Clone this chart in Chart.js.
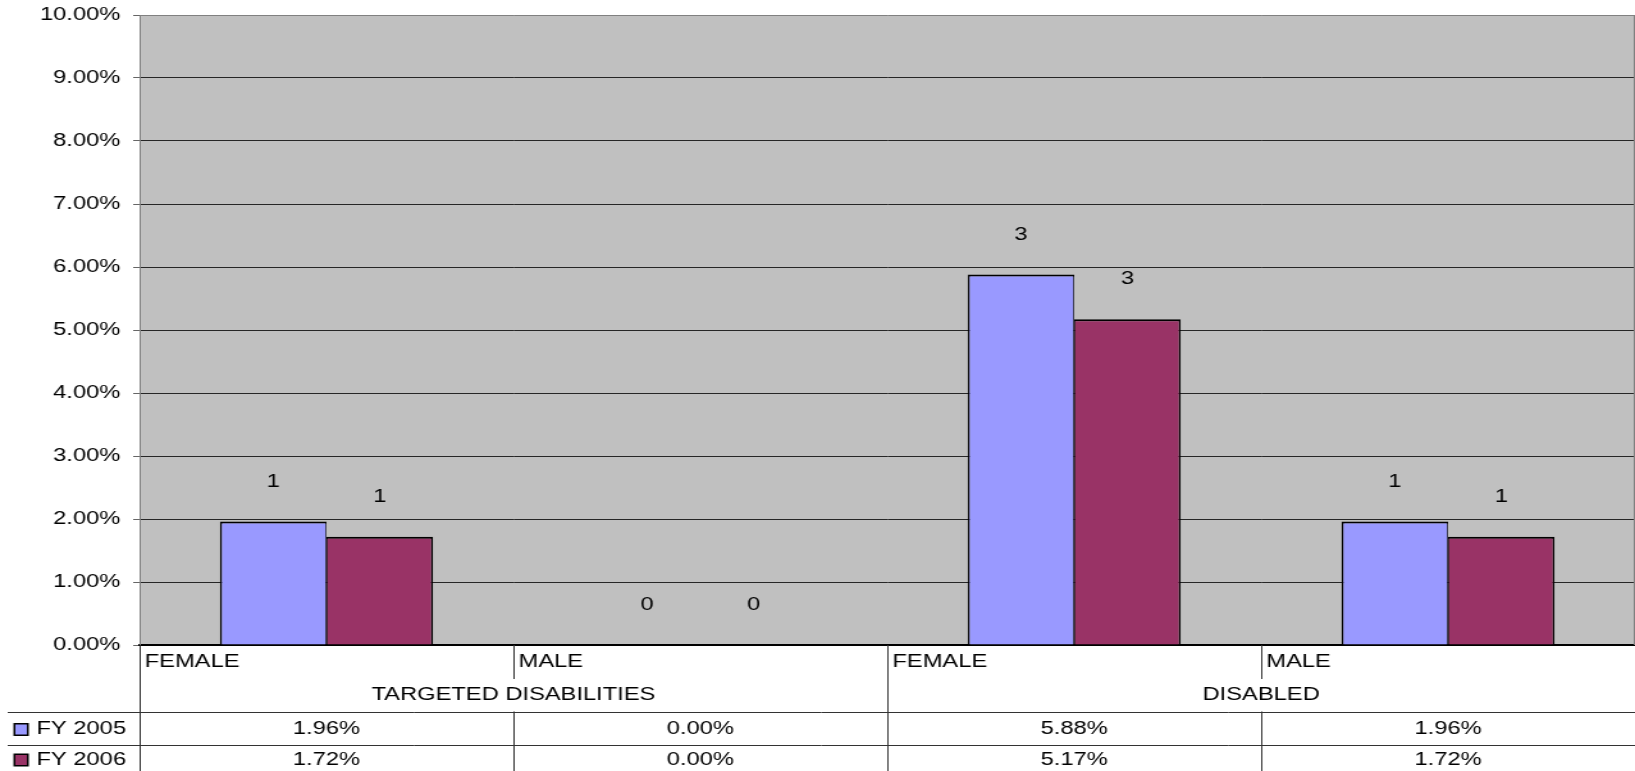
<!DOCTYPE html>
<html>
<head>
<meta charset="utf-8">
<script src="https://cdn.jsdelivr.net/npm/chart.js@4.4.1/dist/chart.umd.min.js"></script>
<style>
  html, body { margin: 0; padding: 0; background: #fff; overflow: hidden; }
  /* the drawing surface is laid out narrower and widened to the page */
  #chart { display: block; width: 1635px !important; height: 771px !important; }
</style>
</head>
<body>
<canvas id="chart" width="1277" height="771" style="width:1635px;height:771px"></canvas>
<script>
// ---- data ----
const categories = ['FEMALE', 'MALE', 'FEMALE', 'MALE'];
const groupLabels = ['TARGETED DISABILITIES', 'DISABLED'];
const groupSpans = [2, 2];
const seriesNames = ['FY 2005', 'FY 2006'];
const fy2005 = [1.96, 0.00, 5.88, 1.96];
const fy2006 = [1.72, 0.00, 5.17, 1.72];
const headcount2005 = [1, 0, 3, 1];
const headcount2006 = [1, 0, 3, 1];
const seriesColors = ['#9999FF', '#993366'];

// ---- styling ----
const FONT_FAMILY = '"Liberation Sans", Arial, sans-serif';
const FONT_SIZE = 18.5;
const FONT = FONT_SIZE + 'px ' + FONT_FAMILY;
const TABLE_HEIGHT = 126;
const ROW = { catBottom: 34, groupBottom: 66.5, row1Bottom: 99.5,
              catText: 17, groupText: 50, row1Text: 84, row2Text: 114.5 };
const fmtPct = v => v.toFixed(2) + '%';

Chart.defaults.font.family = FONT_FAMILY;
Chart.defaults.font.size = FONT_SIZE;
Chart.defaults.color = '#000';

// grey plot background and white page
const plotBackground = {
  id: 'plotBackground',
  beforeDraw(chart) {
    const { ctx, chartArea: a } = chart;
    ctx.save();
    ctx.fillStyle = '#fff';
    ctx.fillRect(0, 0, chart.width, chart.height);
    ctx.fillStyle = '#C0C0C0';
    ctx.fillRect(a.left, a.top, a.right - a.left, a.bottom - a.top);
    ctx.restore();
  }
};

// head-count labels above each bar
const countLabels = {
  id: 'countLabels',
  afterDatasetsDraw(chart) {
    const { ctx } = chart;
    ctx.save();
    ctx.font = FONT;
    ctx.fillStyle = '#000';
    ctx.textAlign = 'center';
    ctx.textBaseline = 'middle';
    chart.data.datasets.forEach((ds, di) => {
      const meta = chart.getDatasetMeta(di);
      meta.data.forEach((bar, i) => {
        ctx.fillText(String(ds.counts[i]), bar.x, bar.y - 40);
      });
    });
    ctx.restore();
  }
};

// data table under the plot: category row, group row, one row per series
const dataTable = {
  id: 'dataTable',
  afterDraw(chart) {
    const { ctx, chartArea: a, scales: { x } } = chart;
    const n = categories.length;
    const step = x.getPixelForValue(1) - x.getPixelForValue(0);
    const edges = [];
    for (let i = 0; i < n; i++) edges.push(x.getPixelForValue(i) - step / 2);
    edges.push(x.getPixelForValue(n - 1) + step / 2);
    const top = a.bottom;
    const bottom = chart.height;

    ctx.save();
    // right border of the plot
    ctx.strokeStyle = '#808080';
    ctx.lineWidth = 1;
    ctx.beginPath();
    ctx.moveTo(a.right - 0.5, a.top);
    ctx.lineTo(a.right - 0.5, a.bottom);
    ctx.stroke();

    ctx.strokeStyle = '#333';
    ctx.lineWidth = 1;
    ctx.beginPath();
    // horizontal rules between series rows
    [ROW.groupBottom, ROW.row1Bottom].forEach(r => {
      const y = Math.round(top + r) + 0.5;
      ctx.moveTo(6, y);
      ctx.lineTo(a.right, y);
    });
    // vertical rules
    let groupStart = 0;
    const groupEdges = new Set([0]);
    groupSpans.forEach(s => { groupStart += s; groupEdges.add(groupStart); });
    for (let i = 0; i < n; i++) {
      const xx = Math.round(edges[i]) + 0.5;
      if (groupEdges.has(i)) {
        ctx.moveTo(xx, top);
        ctx.lineTo(xx, bottom);
      } else {
        ctx.moveTo(xx, top);
        ctx.lineTo(xx, top + ROW.catBottom);
        ctx.moveTo(xx, top + ROW.groupBottom);
        ctx.lineTo(xx, bottom);
      }
    }
    ctx.stroke();

    ctx.font = FONT;
    ctx.fillStyle = '#000';
    ctx.textBaseline = 'middle';
    // category names, left aligned in their cells
    ctx.textAlign = 'left';
    categories.forEach((c, i) => ctx.fillText(c, edges[i] + 4, top + ROW.catText));
    // group names, centred over their categories
    ctx.textAlign = 'center';
    let start = 0;
    groupLabels.forEach((g, gi) => {
      const l = edges[start], r = edges[start + groupSpans[gi]];
      ctx.fillText(g, (l + r) / 2, top + ROW.groupText);
      start += groupSpans[gi];
    });
    // series values
    const rowY = [ROW.row1Text, ROW.row2Text];
    chart.data.datasets.forEach((ds, di) => {
      ds.data.forEach((v, i) => {
        ctx.fillText(fmtPct(v), (edges[i] + edges[i + 1]) / 2, top + rowY[di]);
      });
    });
    // row headers with legend keys
    ctx.textAlign = 'left';
    chart.data.datasets.forEach((ds, di) => {
      const cy = top + rowY[di] + 0.5;
      ctx.fillStyle = '#000';
      ctx.fillRect(10.5, cy - 6.5, 12, 13);
      ctx.fillStyle = ds.backgroundColor;
      ctx.fillRect(12, cy - 5, 9, 10);
      ctx.fillStyle = '#000';
      ctx.fillText(ds.label, 28.5, top + rowY[di]);
    });
    ctx.restore();
  }
};

new Chart(document.getElementById('chart'), {
  type: 'bar',
  data: {
    labels: categories,
    datasets: [
      { label: seriesNames[0], data: fy2005, counts: headcount2005,
        backgroundColor: seriesColors[0], borderColor: '#000',
        borderWidth: { top: 2, left: 1.6, right: 0.8, bottom: 0 } },
      { label: seriesNames[1], data: fy2006, counts: headcount2006,
        backgroundColor: seriesColors[1], borderColor: '#000',
        borderWidth: { top: 2, left: 0.8, right: 1.6, bottom: 0 } }
    ]
  },
  options: {
    responsive: false,
    devicePixelRatio: 1,
    animation: false,
    layout: { padding: { top: 15, right: 0, bottom: 0, left: 0 } },
    datasets: { bar: { categoryPercentage: 0.57, barPercentage: 1.0 } },
    plugins: { legend: { display: false }, tooltip: { enabled: false } },
    scales: {
      x: {
        grid: { display: false },
        ticks: { display: false },
        border: { color: '#000', width: 2 },
        afterFit(scale) {
          scale.height = TABLE_HEIGHT;
          scale.paddingLeft = scale.paddingRight = 0;
        }
      },
      y: {
        min: 0,
        max: 10,
        ticks: { stepSize: 1, padding: 10, callback: v => fmtPct(v), font: { size: FONT_SIZE } },
        grid: {
          color: c => (c.tick && c.tick.value === 10 ? '#808080' : '#262626'),
          tickColor: '#666',
          tickLength: 5,
          drawTicks: true
        },
        border: { color: '#808080', width: 1 },
        afterFit(scale) {
          scale.width = 109;
          scale.paddingTop = scale.paddingBottom = 0;
        }
      }
    }
  },
  plugins: [plotBackground, countLabels, dataTable]
});
</script>
</body>
</html>
